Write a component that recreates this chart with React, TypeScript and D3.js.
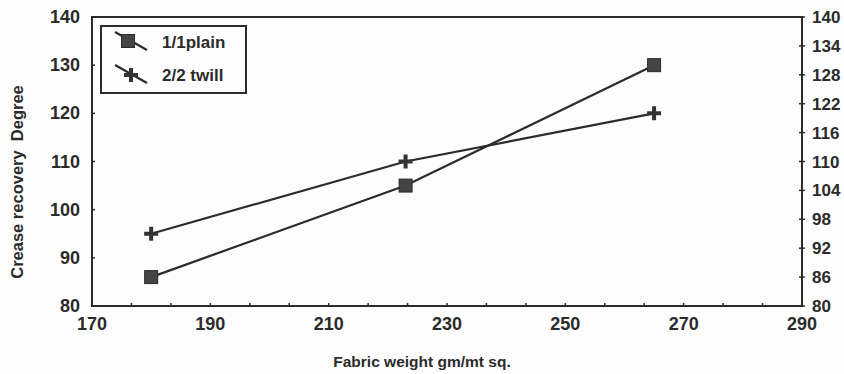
// App.tsx

import React, { useEffect, useRef } from 'react';
import * as d3 from 'd3';

// Data
const weights = [180, 223, 265];
const plain = [86, 105, 130];
const twill = [95, 110, 120];
const xTicks = [170, 190, 210, 230, 250, 270, 290];
const yTicksLeft = [80, 90, 100, 110, 120, 130, 140];
const yTicksRight = [80, 86, 92, 98, 104, 110, 116, 122, 128, 134, 140];
const seriesNames = ['1/1plain', '2/2 twill'];

const CreaseChart: React.FC = () => {
  const svgRef = useRef<SVGSVGElement>(null);

  useEffect(() => {
    const width = 844;
    const height = 374;
    const m = { left: 92, right: 42, top: 17, bottom: 68 };
    const ink = '#2b2b2b';
    const font = '"Liberation Sans", Arial, sans-serif';

    const svg = d3.select(svgRef.current)
      .attr('width', width)
      .attr('height', height);
    svg.selectAll('*').remove();

    const x = d3.scaleLinear().domain([170, 290]).range([m.left, width - m.right]);
    const y = d3.scaleLinear().domain([80, 140]).range([height - m.bottom, m.top]);

    svg.append('rect').attr('width', width).attr('height', height).attr('fill', '#fdfdfd');

    // frame
    svg.append('rect')
      .attr('x', x(170)).attr('y', y(140))
      .attr('width', x(290) - x(170)).attr('height', y(80) - y(140))
      .attr('fill', 'none').attr('stroke', ink).attr('stroke-width', 2);

    // bottom axis: labels every 20, small inward ticks every 20/3
    const minor = d3.range(0, 19).map(i => 170 + (i * 20) / 3);
    svg.append('g').selectAll('line').data(minor).enter().append('line')
      .attr('x1', d => x(d)).attr('x2', d => x(d))
      .attr('y1', y(80)).attr('y2', y(80) - 3)
      .attr('stroke', ink).attr('stroke-width', 1.5);
    svg.append('g').selectAll('text').data(xTicks).enter().append('text')
      .attr('x', d => x(d)).attr('y', y(80) + 24)
      .attr('text-anchor', 'middle')
      .attr('font-family', font).attr('font-weight', 'bold').attr('font-size', 18)
      .attr('fill', ink)
      .text(d => d);

    // left axis
    svg.append('g').selectAll('line').data(yTicksLeft).enter().append('line')
      .attr('x1', x(170)).attr('x2', x(170) + 3)
      .attr('y1', d => y(d)).attr('y2', d => y(d))
      .attr('stroke', ink).attr('stroke-width', 1.5);
    svg.append('g').selectAll('text').data(yTicksLeft).enter().append('text')
      .attr('x', x(170) - 12).attr('y', d => y(d) + 6)
      .attr('text-anchor', 'end')
      .attr('font-family', font).attr('font-weight', 'bold').attr('font-size', 18)
      .attr('fill', ink)
      .text(d => d);

    // right axis
    svg.append('g').selectAll('line').data(yTicksRight).enter().append('line')
      .attr('x1', x(290) - 3).attr('x2', x(290) + 3)
      .attr('y1', d => y(d)).attr('y2', d => y(d))
      .attr('stroke', ink).attr('stroke-width', 1.5);
    svg.append('g').selectAll('text').data(yTicksRight).enter().append('text')
      .attr('x', x(290) + 10).attr('y', d => y(d) + 6)
      .attr('font-family', font).attr('font-weight', 'bold').attr('font-size', 17)
      .attr('fill', ink)
      .text(d => d);

    // axis titles
    svg.append('text')
      .attr('x', 422).attr('y', 367)
      .attr('text-anchor', 'middle')
      .attr('font-family', font).attr('font-weight', 'bold').attr('font-size', 15.5)
      .attr('fill', ink)
      .text('Fabric weight gm/mt sq.');
    svg.append('text')
      .attr('transform', 'translate(23,182) rotate(-90)')
      .attr('text-anchor', 'middle')
      .attr('font-family', font).attr('font-weight', 'bold').attr('font-size', 16.5)
      .attr('fill', ink)
      .attr('xml:space', 'preserve')
      .style('white-space', 'pre')
      .text('Crease recovery  Degree');

    // series
    const line = d3.line<[number, number]>().x(d => x(d[0])).y(d => y(d[1]));
    const series = [plain, twill].map(vals => weights.map((w, i) => [w, vals[i]] as [number, number]));

    series.forEach(pts => {
      svg.append('path')
        .attr('d', line(pts))
        .attr('fill', 'none').attr('stroke', ink).attr('stroke-width', 2.2);
    });

    const square = (g: any, cx: number, cy: number) => {
      g.append('rect')
        .attr('x', cx - 6.5).attr('y', cy - 6.5)
        .attr('width', 13).attr('height', 13)
        .attr('fill', '#444').attr('stroke', ink).attr('stroke-width', 1);
    };
    const plus = (g: any, cx: number, cy: number) => {
      g.append('path')
        .attr('d', `M${cx - 7},${cy}H${cx + 7}M${cx},${cy - 7}V${cy + 7}`)
        .attr('stroke', '#333').attr('stroke-width', 4).attr('fill', 'none');
    };

    series[0].forEach(d => square(svg, x(d[0]), y(d[1])));
    series[1].forEach(d => plus(svg, x(d[0]), y(d[1])));

    // legend
    const lg = svg.append('g');
    lg.append('rect')
      .attr('x', 101).attr('y', 26).attr('width', 145).attr('height', 67)
      .attr('fill', '#fdfdfd').attr('stroke', ink).attr('stroke-width', 2);
    const rows = [32, 65];
    rows.forEach((ry, i) => {
      lg.append('line')
        .attr('x1', 115).attr('y1', ry)
        .attr('x2', 147).attr('y2', ry + 18)
        .attr('stroke', ink).attr('stroke-width', 2.2);
      if (i === 0) square(lg, 128, ry + 9);
      else plus(lg, 131, ry + 10);
      lg.append('text')
        .attr('x', 162).attr('y', ry + 16)
        .attr('font-family', font).attr('font-weight', 'bold').attr('font-size', 17)
        .attr('fill', ink)
        .text(seriesNames[i]);
    });
  }, []);

  return <svg ref={svgRef} style={{ position: 'absolute', left: 0, top: 0, display: 'block' }}></svg>;
};

const App: React.FC = () => {
  return (
    <div className="App">
      <CreaseChart />
    </div>
  );
};

export default App;
